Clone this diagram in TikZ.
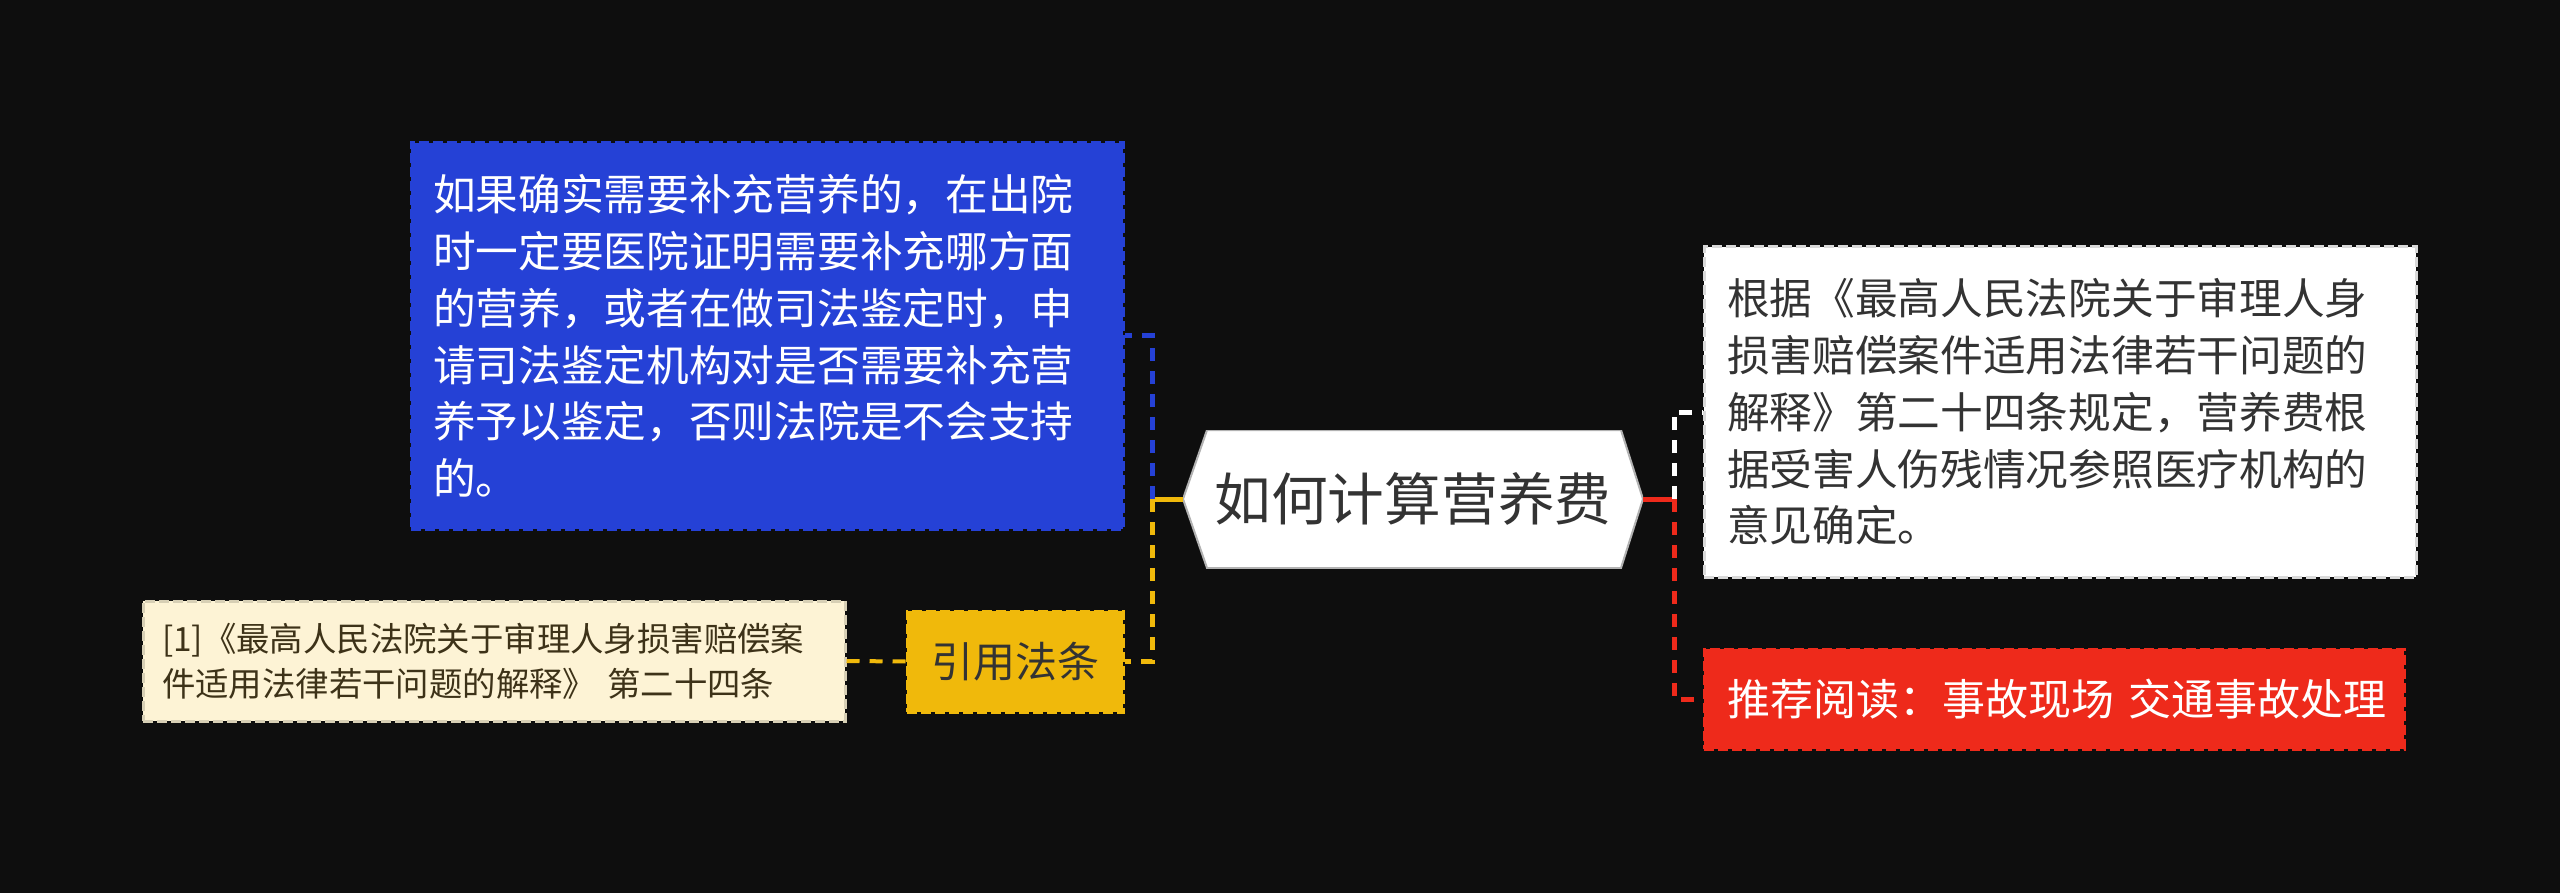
\documentclass[tikz,border=0pt]{standalone}
\usepackage{fontspec}
\setmainfont{Noto Sans CJK SC}
\definecolor{bg}{HTML}{0E0E0E}
\definecolor{cblue}{HTML}{2541D6}
\definecolor{cyellow}{HTML}{F0B90B}
\definecolor{ccream}{HTML}{FDF3D5}
\definecolor{ccreamtext}{HTML}{3D3218}
\definecolor{cred}{HTML}{EE2A1B}
\definecolor{ctext}{HTML}{333333}
\begin{document}
\begin{tikzpicture}[x=0.5pt,y=-0.5pt,
  box/.style={rectangle, inner ysep=0pt, line width=1.5pt, dash pattern=on 5pt off 2pt},
  conn/.style={line width=2.5pt, dash pattern=on 6.5pt off 5pt},
  solidconn/.style={line width=2.5pt},
  bodyfont/.style={font=\fontsize{21.35pt}{28.35pt}\selectfont},
  hexnode/.style={rectangle, minimum width=230pt, minimum height=69pt, inner sep=0pt,
    fill=bg, text=ctext, font=\fontsize{28.35pt}{34pt}\selectfont,
    path picture={\fill[white, draw=gray!60, line width=1pt]
      (path picture bounding box.west)
      -- ([xshift=12pt]path picture bounding box.north west)
      -- ([xshift=-11pt]path picture bounding box.north east)
      -- (path picture bounding box.east)
      -- ([xshift=-11pt]path picture bounding box.south east)
      -- ([xshift=12pt]path picture bounding box.south west) -- cycle;}}
]
\fill[bg] (0,0) rectangle (2560,893);
\useasboundingbox (0,0) rectangle (2560,893);

\node[hexnode] (center) at (1413,499) {如何计算营养费};

\node[box, bodyfont, fill=cblue, draw=cblue, text=white, align=left,
  text width=334pt, inner xsep=11pt, minimum height=193pt] (blue) at (767,336)
  {如果确实需要补充营养的，在出院\\时一定要医院证明需要补充哪方面\\的营养，或者在做司法鉴定时，申\\请司法鉴定机构对是否需要补充营\\养予以鉴定，否则法院是不会支持\\的。};

\node[box, fill=cyellow, draw=cyellow, text=ctext, align=center,
  font=\fontsize{21pt}{26pt}\selectfont,
  minimum width=108pt, minimum height=50.5pt, inner xsep=0pt] (yinfa) at (1015,661.5) {引用法条};

\node[box, fill=ccream, draw=ccream!85!black, text=ccreamtext, align=left,
  font=\fontsize{16.7pt}{22.5pt}\selectfont,
  text width=332pt, inner xsep=9.5pt, minimum height=60pt] (cream) at (494,661)
  {[1]《最高人民法院关于审理人身损害赔偿案\\件适用法律若干问题的解释》 第二十四条};

\node[box, bodyfont, fill=white, draw=gray!30, text=ctext, align=left,
  text width=333pt, inner xsep=11.5pt, minimum height=165pt] (whitebox) at (2060,412)
  {根据《最高人民法院关于审理人身\\损害赔偿案件适用法律若干问题的\\解释》第二十四条规定，营养费根\\据受害人伤残情况参照医疗机构的\\意见确定。};

\node[box, fill=cred, draw=cred, text=white, align=left,
  font=\fontsize{21.5pt}{28pt}\selectfont,
  text width=327pt, inner xsep=11.5pt, minimum height=50pt] (redbox) at (2054,699)
  {\mbox{推荐阅读：事故现场 交通事故处理}};

\draw[solidconn, cyellow] (center.west) -- ++(-30,0) coordinate (jl);
\draw[conn, cblue] (jl) |- (blue.east);
\draw[conn, cyellow] (jl) |- (yinfa.east);
\draw[conn, cyellow, line width=2pt] (yinfa.west) -- (cream.east);
\draw[solidconn, cred] (center.east) -- ++(31,0) coordinate (jr);
\draw[conn, white] (jr) |- (whitebox.west);
\draw[conn, cred] (jr) |- (redbox.west);
\end{tikzpicture}
\end{document}
